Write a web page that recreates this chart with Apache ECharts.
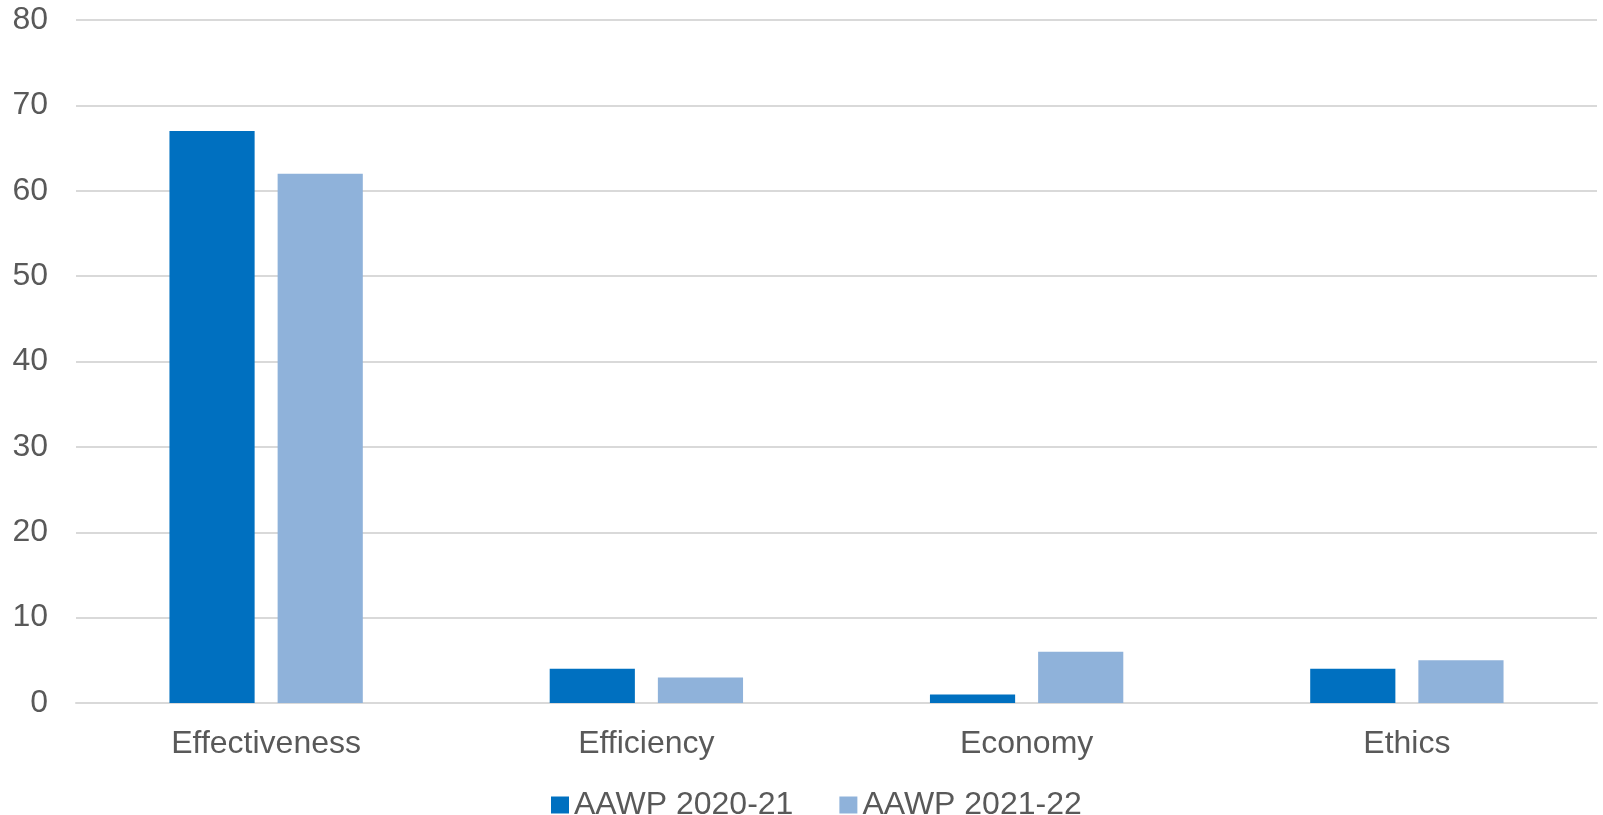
<!DOCTYPE html>
<html>
<head>
<meta charset="utf-8">
<script src="https://cdn.jsdelivr.net/npm/echarts@6/dist/echarts.min.js"></script>
<style>
html,body{margin:0;padding:0;background:#fff;}
#chart{width:1603px;height:815px;}
</style>
</head>
<body>
<div id="chart"></div>
<script>
const categories = ['Effectiveness', 'Efficiency', 'Economy', 'Ethics'];
const seriesNames = ['AAWP 2020-21', 'AAWP 2021-22'];
const values2021 = [67, 4, 1, 4];
const values2122 = [62, 3, 6, 5];
const yTicks = [0, 10, 20, 30, 40, 50, 60, 70, 80];

const chart = echarts.init(document.getElementById('chart'), null, {renderer: 'canvas'});
const font = 'Liberation Sans, Arial, sans-serif';
chart.setOption({
  animation: false,
  backgroundColor: '#ffffff',
  grid: {left: 76, right: 6, top: 20, bottom: 112, containLabel: false},
  legend: {
    data: seriesNames,
    left: 546,
    top: 784,
    itemWidth: 18,
    itemHeight: 17,
    itemGap: 46,
    icon: 'rect',
    textStyle: {fontFamily: font, fontSize: 32, color: '#595959'}
  },
  xAxis: {
    type: 'category',
    data: categories,
    axisLine: {show: true, lineStyle: {color: '#D9D9D9', width: 2}},
    axisTick: {show: false},
    axisLabel: {fontFamily: font, fontSize: 32, color: '#595959', margin: 25}
  },
  yAxis: {
    type: 'value',
    min: yTicks[0],
    max: yTicks[yTicks.length - 1],
    interval: 10,
    axisLine: {show: false},
    axisTick: {show: false},
    splitLine: {lineStyle: {color: '#D9D9D9', width: 2}},
    axisLabel: {fontFamily: font, fontSize: 32, color: '#595959', margin: 28}
  },
  series: [
    {
      name: seriesNames[0],
      type: 'bar',
      data: values2021,
      barWidth: '22.4%',
      barGap: '27%',
      itemStyle: {color: '#0070C0'}
    },
    {
      name: seriesNames[1],
      type: 'bar',
      data: values2122,
      barWidth: '22.4%',
      barGap: '27%',
      itemStyle: {color: '#8FB2DA'}
    }
  ]
});
</script>
</body>
</html>
